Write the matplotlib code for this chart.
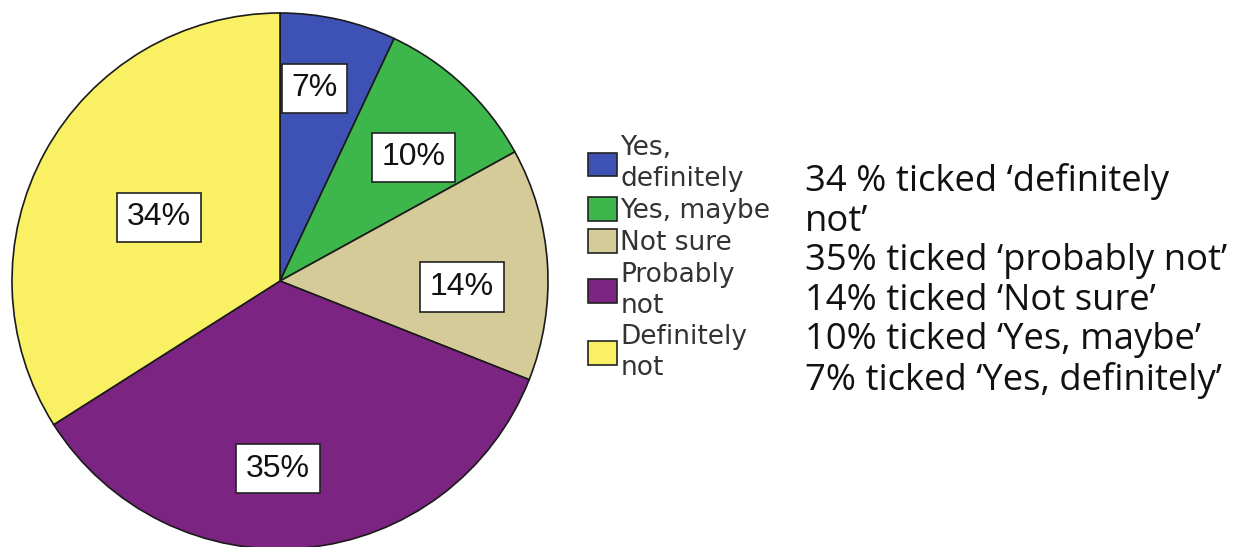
import matplotlib.pyplot as plt
import numpy as np
from matplotlib.patches import Patch

# data, clockwise from 12 o'clock
labels = ['Yes,\ndefinitely', 'Yes, maybe', 'Not sure', 'Probably\nnot', 'Definitely\nnot']
pcts = [7, 10, 14, 35, 34]
colors = ['#3e52b6', '#3db64c', '#d5cb98', '#7b2482', '#f9f163']
label_r = [0.73, 0.68, 0.68, 0.70, 0.51]   # how far out each % box sits
label_shift = [2.5, -4, -5.5, -6, 1]        # degrees, nudge along the arc
notes = ["34 % ticked \u2018definitely\nnot\u2019",
         "35% ticked \u2018probably not\u2019",
         "14% ticked \u2018Not sure\u2019",
         "10% ticked \u2018Yes, maybe\u2019",
         "7% ticked \u2018Yes, definitely\u2019"]

W, H = 1233, 547
fig = plt.figure(figsize=(W / 100, H / 100), dpi=100)

# pie axes: centre (280, 281) px, radius 268 px
cx, cy, r = 280, 281, 268
ax = fig.add_axes([(cx - r) / W, (H - cy - r) / H, 2 * r / W, 2 * r / H])
wedges, _ = ax.pie(pcts, colors=colors, startangle=90, counterclock=False,
                   wedgeprops=dict(edgecolor='#1a1a1a', linewidth=1.2))
ax.set_xlim(-1, 1)
ax.set_ylim(-1, 1)
ax.set_aspect('equal')
ax.axis('off')

# % boxes
start = 90
for p, rr, sh in zip(pcts, label_r, label_shift):
    mid = np.deg2rad(start - p * 3.6 / 2 + sh)
    ax.text(rr * np.cos(mid), rr * np.sin(mid), f'{p}%', ha='center', va='center',
            fontsize=23, family='Liberation Sans', color='#111111',
            bbox=dict(boxstyle='square,pad=0.3', fc='white', ec='#222222', lw=1.2))
    start -= p * 3.6

handles = [Patch(facecolor=c, edgecolor='#222222', linewidth=1.2) for c in colors]
leg = fig.legend(handles, labels, loc='upper left', bbox_to_anchor=(588 / W, 1 - 135 / H),
                 frameon=False, handlelength=1.1, handleheight=1.0,
                 handletextpad=0.12, labelspacing=0.2, borderpad=0, borderaxespad=0,
                 labelcolor='#333333', prop=dict(family='DejaVu Sans', size=19))
for t in leg.get_texts():
    t.set_linespacing(1.25)

fig.text(805 / W, 1 - 163 / H, '\n'.join(notes), ha='left', va='top',
         fontsize=26.2, family='Open Sans', color='#111111', linespacing=1.13)

fig.savefig('out.png', dpi=100)
